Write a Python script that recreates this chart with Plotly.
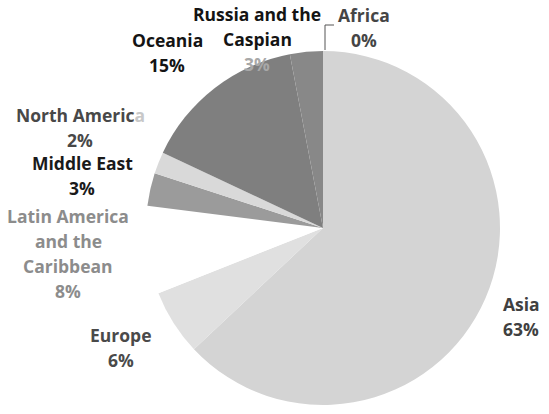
import plotly.graph_objects as go

W, H = 549, 414

regions = ["Asia", "Europe", "Latin America and the Caribbean", "Middle East",
           "North America", "Oceania", "Russia and the Caspian", "Africa"]
shares = [63, 6, 8, 3, 2, 15, 3, 0]
slice_colors = ["#d4d4d4", "#e0e0e0", "#ffffff", "#9b9b9b",
                "#d9d9d9", "#7f7f7f", "#888888", "#888888"]

# label text lines (wrapped as in the reference)
label_lines = [["Asia"], ["Europe"], ["Latin America", "and the", "Caribbean"],
               ["Middle East"], ["North Americ<span style='color:#c8c8c8'>a</span>"],
               ["Oceania"], ["Russia and the", "Caspian"], ["Africa"]]
label_colors = ["#404040", "#4a4a4a", "#8c8c8c", "#1a1a1a",
                "#484848", "#141414", "#141414", "#454545"]
pct_colors = ["#404040", "#4a4a4a", "#8c8c8c", "#1a1a1a",
              "#484848", "#141414", "#a8a8a8", "#454545"]
# pixel anchor (center x, y of first line) and line spacing
label_pos = [(521, 304), (121, 335), (68, 216), (82, 163),
             (80, 115), (167, 40), (257, 14), (364, 15)]
LINE = 25

fig = go.Figure(go.Pie(
    labels=regions, values=shares, sort=False, direction="clockwise",
    rotation=0, textinfo="none", hoverinfo="label+percent",
    marker=dict(colors=slice_colors, line=dict(color="#ffffff", width=0)),
    domain=dict(x=[146 / W, 500 / W], y=[(H - 405) / H, (H - 51) / H]),
    showlegend=False,
))

anns = []
for lines, share, lc, pc, (px, py) in zip(label_lines, shares, label_colors, pct_colors, label_pos):
    texts = lines + [f"{share}%"]
    for i, t in enumerate(texts):
        col = pc if i == len(texts) - 1 else lc
        anns.append(dict(x=px / W, y=1 - (py + i * LINE) / H, xref="paper", yref="paper",
                         text=f"<b>{t}</b>", showarrow=False, xanchor="center", yanchor="middle",
                         font=dict(family="Open Sans", size=17.5, color=col)))

shapes = [dict(type="path", xref="paper", yref="paper",
               path=f"M {325 / W} {1 - 50 / H} L {325 / W} {1 - 25 / H} L {334 / W} {1 - 25 / H}",
               line=dict(color="#555555", width=1))]

fig.update_layout(width=W, height=H, margin=dict(l=0, r=0, t=0, b=0),
                  paper_bgcolor="white", plot_bgcolor="white",
                  annotations=anns, shapes=shapes)

fig.write_html("out.html", config={"displayModeBar": False},
               post_script="document.body.style.margin='0';document.body.style.overflow='hidden';")
